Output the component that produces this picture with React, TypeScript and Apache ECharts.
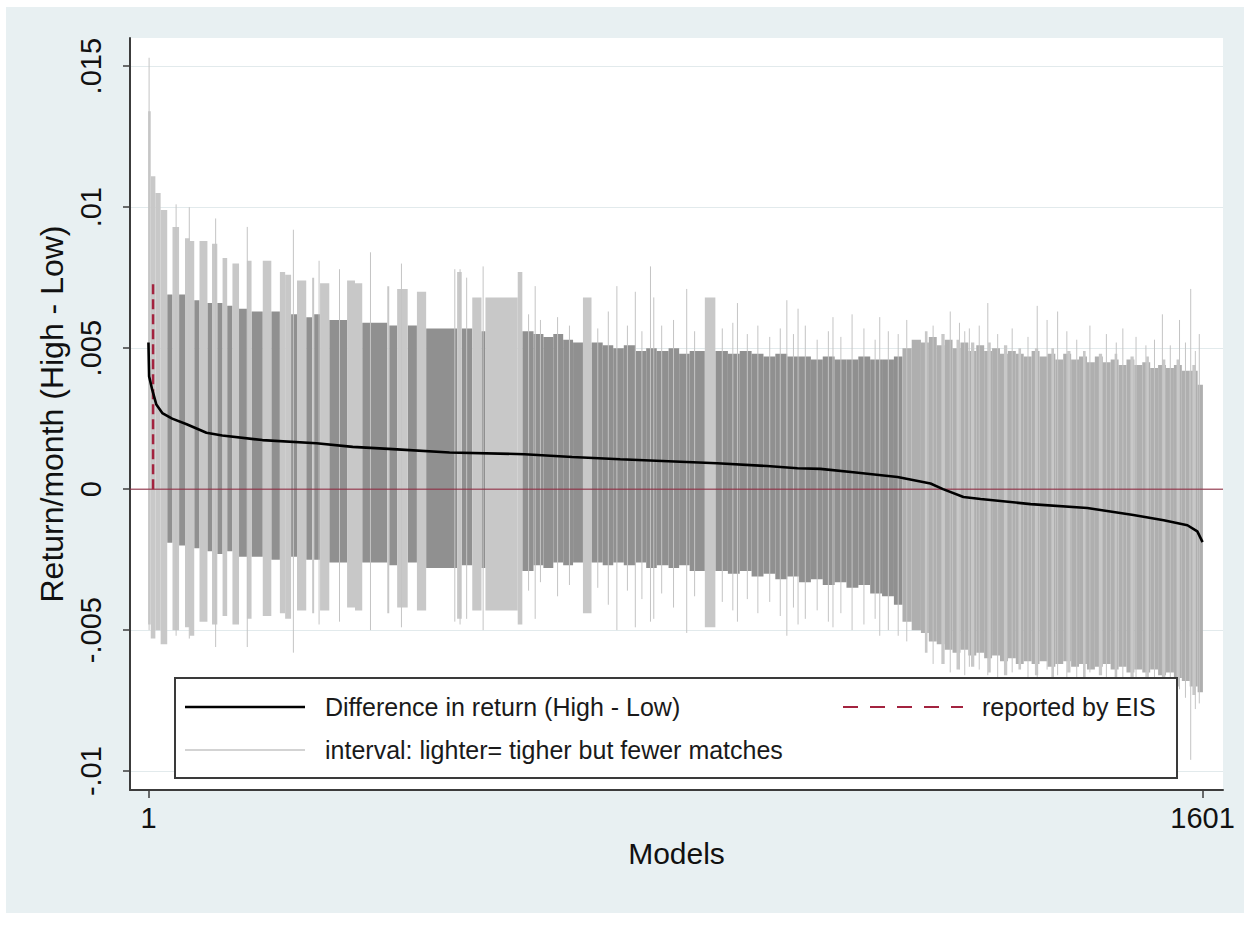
import React, { useEffect, useRef } from 'react';
import * as echarts from 'echarts';

// ---------- axis settings ----------
const xMin = -27;
const xMax = 1632;
const yMin = -0.01067;
const yMax = 0.016;
const xTicks = [1, 1601];
const xTickLabels = ['1', '1601'];
const yTicks = [-0.01, -0.005, 0, 0.005, 0.01, 0.015];
const yTickLabels = ['-.01', '-.005', '0', '.005', '.01', '.015'];

// ---------- data: [firstModel, lastModel, low, high] ----------
const darkRuns: number[][] = [
  [30, 37, -0.0019, 0.0069], [48, 56, -0.002, 0.0069], [71, 78, -0.0021, 0.0067],
  [91, 97, -0.0022, 0.0066], [106, 113, -0.0023, 0.0066], [121, 128, -0.0022, 0.0065],
  [139, 150, -0.0024, 0.0064], [158, 174, -0.0024, 0.0063], [188, 200, -0.0025, 0.0063],
  [218, 226, -0.0024, 0.0062], [241, 249, -0.0025, 0.0061], [253, 261, -0.0025, 0.0062],
  [276, 302, -0.0026, 0.006], [326, 363, -0.0026, 0.0059], [367, 378, -0.0027, 0.0058],
  [395, 408, -0.0026, 0.0058], [423, 469, -0.0028, 0.0057], [477, 492, -0.0027, 0.0057],
  [507, 512, -0.0028, 0.0056], [569, 585, -0.0029, 0.0056], [586, 600, -0.0027, 0.0055],
  [601, 615, -0.0028, 0.0054], [616, 630, -0.0026, 0.0055], [631, 645, -0.0027, 0.0053],
  [646, 660, -0.0026, 0.0052], [674, 690, -0.0026, 0.0052], [691, 706, -0.0027, 0.0051],
  [707, 722, -0.0026, 0.005], [723, 740, -0.0027, 0.0051], [741, 756, -0.0026, 0.0049],
  [757, 772, -0.0028, 0.005], [773, 790, -0.0027, 0.0049], [791, 806, -0.0028, 0.005],
  [807, 822, -0.0027, 0.0048], [823, 845, -0.0029, 0.0049], [862, 880, -0.0029, 0.0049],
  [881, 898, -0.003, 0.0048], [899, 916, -0.0029, 0.0049], [917, 934, -0.0031, 0.0048],
  [935, 952, -0.003, 0.0047], [953, 970, -0.0032, 0.0048], [971, 988, -0.0031, 0.0047],
  [989, 1006, -0.0033, 0.0047], [1007, 1024, -0.0032, 0.0046], [1025, 1042, -0.0034, 0.0047],
  [1043, 1060, -0.0033, 0.0046], [1061, 1078, -0.0035, 0.0046], [1079, 1096, -0.0034, 0.0047],
  [1097, 1114, -0.0037, 0.0046], [1115, 1132, -0.0038, 0.0046], [1133, 1145, -0.0041, 0.0047],
];

const midRuns: number[][] = [
  [1146, 1159, -0.0047, 0.005], [1160, 1173, -0.005, 0.0053],
  [1174, 1185, -0.0051, 0.0052], [1186, 1197, -0.0054, 0.0054], [1198, 1209, -0.0055, 0.0051],
  [1210, 1221, -0.0057, 0.0053], [1222, 1233, -0.0058, 0.005], [1234, 1245, -0.0057, 0.0052],
  [1246, 1257, -0.0059, 0.0049], [1258, 1269, -0.0058, 0.0051], [1270, 1281, -0.006, 0.0049],
  [1282, 1293, -0.0059, 0.005], [1294, 1305, -0.0061, 0.0048], [1306, 1317, -0.006, 0.0049],
  [1318, 1329, -0.0062, 0.0048], [1330, 1341, -0.0061, 0.0047], [1342, 1353, -0.0062, 0.0049],
  [1354, 1365, -0.0061, 0.0047], [1366, 1377, -0.0063, 0.0048], [1378, 1389, -0.0062, 0.0046],
  [1390, 1401, -0.0061, 0.0048], [1402, 1413, -0.0063, 0.0046], [1414, 1425, -0.0062, 0.0047],
  [1426, 1437, -0.0064, 0.0045], [1438, 1449, -0.0063, 0.0047], [1450, 1461, -0.0062, 0.0045],
  [1462, 1473, -0.0064, 0.0046], [1474, 1485, -0.0063, 0.0044], [1486, 1497, -0.0065, 0.0046],
  [1498, 1509, -0.0064, 0.0044], [1510, 1521, -0.0065, 0.0045], [1522, 1533, -0.0064, 0.0043],
  [1534, 1545, -0.0066, 0.0044], [1546, 1557, -0.0065, 0.0043], [1558, 1569, -0.0067, 0.0044],
  [1570, 1581, -0.0068, 0.0042], [1582, 1593, -0.007, 0.0042], [1594, 1601, -0.0072, 0.0037],
];

const lightRuns: number[][] = [
  [1, 4, -0.0048, 0.0134], [5, 11, -0.0053, 0.0111], [12, 19, -0.005, 0.0105],
  [20, 29, -0.0055, 0.0099], [38, 47, -0.005, 0.0093], [57, 63, -0.0049, 0.0089],
  [64, 70, -0.0052, 0.0088], [79, 90, -0.0047, 0.0088], [98, 105, -0.0048, 0.0087],
  [114, 120, -0.0045, 0.0082], [129, 138, -0.0048, 0.008], [151, 157, -0.0046, 0.0081],
  [175, 187, -0.0045, 0.0081], [201, 208, -0.0044, 0.0077], [209, 217, -0.0046, 0.0076],
  [227, 240, -0.0043, 0.0074], [250, 252, -0.0044, 0.0075], [262, 275, -0.0043, 0.0073],
  [303, 314, -0.0042, 0.0074], [315, 325, -0.0043, 0.0073], [364, 366, -0.0044, 0.0072],
  [379, 394, -0.0042, 0.0071], [409, 422, -0.0043, 0.007], [470, 476, -0.0046, 0.0077],
  [493, 506, -0.0043, 0.0068], [513, 561, -0.0043, 0.0068], [562, 568, -0.0048, 0.0077],
  [661, 673, -0.0044, 0.0068], [846, 861, -0.0049, 0.0068],
  [1180, 1183, -0.0058, 0.0056], [1205, 1209, -0.0062, 0.0055], [1228, 1231, -0.0064, 0.0053],
  [1250, 1254, -0.0063, 0.0052], [1276, 1279, -0.0065, 0.0052], [1300, 1304, -0.0066, 0.0051],
  [1322, 1325, -0.0064, 0.005], [1347, 1351, -0.0066, 0.005], [1372, 1375, -0.0067, 0.005],
  [1396, 1400, -0.0065, 0.0049], [1420, 1423, -0.0067, 0.0049], [1444, 1448, -0.0066, 0.0048],
  [1468, 1471, -0.0068, 0.0048], [1492, 1496, -0.0067, 0.0047], [1516, 1519, -0.0068, 0.0047],
  [1540, 1544, -0.0069, 0.0046], [1562, 1565, -0.007, 0.0046], [1586, 1590, -0.0073, 0.0044],
];

// single thin intervals: [model, low, high]
const spikes: number[][] = [
  [2, -0.005, 0.0153], [43, -0.0052, 0.0101], [63, -0.0053, 0.01], [103, -0.0056, 0.0096],
  [151, -0.0056, 0.0093], [221, -0.0058, 0.0092], [260, -0.0048, 0.0081], [291, -0.0047, 0.0078],
  [338, -0.005, 0.0084], [385, -0.0049, 0.008], [466, -0.0047, 0.0078], [474, -0.0048, 0.0078],
  [484, -0.0046, 0.0075], [509, -0.005, 0.0079], [588, -0.0046, 0.0072], [712, -0.005, 0.0072],
  [740, -0.0049, 0.007], [763, -0.0047, 0.0079], [768, -0.0046, 0.0068], [818, -0.0051, 0.0071],
  [895, -0.0047, 0.0066], [970, -0.0052, 0.0067], [987, -0.0048, 0.0064], [1040, -0.0049, 0.0061],
  [1069, -0.005, 0.0062], [1111, -0.0052, 0.0061], [1152, -0.0054, 0.006], [1218, -0.0065, 0.0063],
  [1232, -0.0064, 0.0059], [1247, -0.0063, 0.0057], [1275, -0.0066, 0.0066], [1350, -0.0067, 0.0065],
  [1365, -0.0064, 0.006], [1381, -0.0066, 0.0063], [1430, -0.0065, 0.0058], [1480, -0.0068, 0.0057],
  [1540, -0.007, 0.0062], [1566, -0.0071, 0.006], [1583, -0.0096, 0.0071], [1596, -0.0076, 0.0055],
  [578, -0.0036, 0.0062], [596, -0.0033, 0.006], [622, -0.0038, 0.0061], [640, -0.0034, 0.0058],
  [683, -0.0035, 0.0057], [699, -0.0041, 0.0063], [728, -0.0036, 0.0058], [750, -0.0039, 0.0056],
  [780, -0.0037, 0.0058], [798, -0.0042, 0.006], [830, -0.0038, 0.0056], [872, -0.004, 0.0057],
  [888, -0.0043, 0.0059], [910, -0.0039, 0.0055], [926, -0.0044, 0.0058], [944, -0.004, 0.0054],
  [960, -0.0045, 0.0057], [980, -0.0042, 0.0055], [998, -0.0046, 0.0058], [1016, -0.0043, 0.0053],
  [1033, -0.0047, 0.0056], [1052, -0.0044, 0.0054], [1087, -0.0048, 0.0057], [1104, -0.0046, 0.0053],
  [1124, -0.005, 0.0056], [1139, -0.0052, 0.0055], [1192, -0.0062, 0.0058], [1240, -0.0066, 0.0056],
  [1262, -0.0064, 0.0058], [1290, -0.0067, 0.0055], [1312, -0.0065, 0.0057], [1336, -0.0068, 0.0054],
  [1395, -0.0067, 0.0056], [1410, -0.0069, 0.0053], [1455, -0.0067, 0.0055], [1470, -0.007, 0.0052],
  [1500, -0.0069, 0.0054], [1515, -0.0071, 0.0051], [1528, -0.0069, 0.0053], [1552, -0.0072, 0.0051],
  [1575, -0.0074, 0.0052], [1590, -0.0078, 0.0049],
];

// difference in return (High - Low): [model, value]
const diffReturn: number[][] = [
  [1, 0.0052], [2, 0.004], [7, 0.0035], [13, 0.003], [22, 0.0027], [37, 0.0025],
  [59, 0.0023], [89, 0.002], [113, 0.0019], [174, 0.00174], [256, 0.00163], [311, 0.0015],
  [372, 0.00142], [458, 0.0013], [572, 0.00124], [644, 0.00114], [717, 0.00106], [790, 0.00099],
  [864, 0.00092], [940, 0.00082], [986, 0.00074], [1021, 0.00072], [1071, 0.0006], [1138, 0.00043],
  [1188, 0.0002], [1207, 0], [1238, -0.00028], [1264, -0.00035], [1340, -0.00053], [1426, -0.00067],
  [1496, -0.00092], [1542, -0.0011], [1578, -0.00128], [1593, -0.0015], [1601, -0.00188],
];

const eisModel = 8;
const eisValue = 0.0074;

const FONT = '"Liberation Sans", Arial, Helvetica, sans-serif';
const DARK = '#909090';
const MID = '#afafaf';
const LIGHT = '#c8c8c8';
const CRANBERRY = '#a3233f';

function runSeries(name: string, data: number[][], color: string, z: number) {
  return {
    type: 'custom',
    name,
    z,
    silent: true,
    data,
    encode: { x: [0, 1], y: [2, 3] },
    renderItem: (_p: any, api: any) => {
      const s = api.value(0);
      const e = api.value(1);
      const lo = api.value(2);
      const hi = api.value(3);
      const p0 = api.coord([s - 0.5, hi]);
      const p1 = api.coord([e + 0.5, lo]);
      return {
        type: 'rect',
        shape: { x: p0[0], y: p0[1], width: Math.max(p1[0] - p0[0], 0.8), height: p1[1] - p0[1] },
        style: { fill: color },
      };
    },
  };
}

export default function App() {
  const ref = useRef<HTMLDivElement>(null);
  useEffect(() => {
    document.body.style.margin = '0';
    const chart = echarts.init(ref.current!, null, { renderer: 'svg', width: 1251, height: 935 });
    const option: any = {
      animation: false,
      backgroundColor: 'transparent',
      textStyle: { fontFamily: FONT },
      grid: { left: 130, top: 38, width: 1093, height: 752, show: true, backgroundColor: '#ffffff', borderWidth: 0 },
      xAxis: {
        type: 'value',
        min: xMin,
        max: xMax,
        name: 'Models',
        nameLocation: 'middle',
        nameGap: 48,
        nameTextStyle: { fontFamily: FONT, fontSize: 30, color: '#111' },
        axisLine: { show: true, onZero: false, lineStyle: { color: '#3c3c3c', width: 2 } },
        axisTick: { show: true, length: 8, lineStyle: { color: '#3c3c3c', width: 1.5 }, customValues: xTicks },
        axisLabel: {
          customValues: xTicks,
          margin: 13,
          fontFamily: FONT,
          fontSize: 29,
          color: '#111',
          formatter: (v: number) => {
            const i = xTicks.findIndex((t) => Math.abs(t - v) < 1e-6);
            return i >= 0 ? xTickLabels[i] : '';
          },
        },
        splitLine: { show: false },
      },
      yAxis: {
        type: 'value',
        min: yMin,
        max: yMax,
        name: 'Return/month (High - Low)',
        nameLocation: 'middle',
        nameRotate: 90,
        nameGap: 56,
        nameTextStyle: { fontFamily: FONT, fontSize: 32, color: '#111' },
        axisLine: { show: true, onZero: false, lineStyle: { color: '#3c3c3c', width: 2 } },
        axisTick: { show: true, length: 7, lineStyle: { color: '#3c3c3c', width: 1.5 }, customValues: yTicks },
        axisLabel: {
          customValues: yTicks,
          rotate: 90,
          margin: 25,
          fontFamily: FONT,
          fontSize: 29,
          color: '#111',
          formatter: (v: number) => {
            const i = yTicks.findIndex((t) => Math.abs(t - v) < 1e-9);
            return i >= 0 ? yTickLabels[i] : '';
          },
        },
        splitLine: { show: true, lineStyle: { color: '#e2eaec', width: 1 } },
      },
      series: [
        runSeries('dark intervals', darkRuns, DARK, 2),
        runSeries('mid intervals', midRuns, MID, 3),
        runSeries('light intervals', lightRuns, LIGHT, 4),
        {
          type: 'custom',
          name: 'spikes',
          z: 5,
          silent: true,
          data: spikes,
          encode: { x: 0, y: [1, 2] },
          renderItem: (_p: any, api: any) => {
            const m = api.value(0);
            const a = api.coord([m, api.value(1)]);
            const b = api.coord([m, api.value(2)]);
            return {
              type: 'line',
              shape: { x1: a[0], y1: a[1], x2: b[0], y2: b[1] },
              style: { stroke: '#c4c4c4', lineWidth: 1 },
            };
          },
        },
        {
          type: 'line',
          name: 'zero',
          z: 6,
          silent: true,
          symbol: 'none',
          data: [[xMin, 0], [xMax, 0]],
          lineStyle: { color: '#8e2a40', width: 1.5, opacity: 0.7 },
        },
        {
          type: 'line',
          name: 'reported by EIS',
          z: 7,
          silent: true,
          symbol: 'none',
          data: [[eisModel, 0], [eisModel, eisValue]],
          lineStyle: { color: CRANBERRY, width: 2.5, type: [10, 5] },
        },
        {
          type: 'line',
          name: 'Difference in return (High - Low)',
          z: 8,
          silent: true,
          symbol: 'none',
          data: diffReturn,
          lineStyle: { color: '#000', width: 2.6 },
        },
      ],
      graphic: [
        {
          type: 'rect',
          z: 100,
          shape: { x: 175, y: 678, width: 1002, height: 100 },
          style: { fill: '#fff', stroke: '#3a3a3a', lineWidth: 2 },
        },
        { type: 'line', z: 101, shape: { x1: 185, y1: 707, x2: 305, y2: 707 }, style: { stroke: '#000', lineWidth: 2.6 } },
        {
          type: 'text', z: 101, x: 325, y: 707,
          style: { text: 'Difference in return (High - Low)', font: `25px ${FONT}`, fill: '#1a1a1a', verticalAlign: 'middle', align: 'left' },
        },
        { type: 'line', z: 101, shape: { x1: 843, y1: 707, x2: 963, y2: 707 }, style: { stroke: CRANBERRY, lineWidth: 2.2, lineDash: [15, 12] } },
        {
          type: 'text', z: 101, x: 982, y: 707,
          style: { text: 'reported by EIS', font: `25px ${FONT}`, fill: '#1a1a1a', verticalAlign: 'middle', align: 'left' },
        },
        { type: 'line', z: 101, shape: { x1: 185, y1: 750, x2: 305, y2: 750 }, style: { stroke: '#c4c4c4', lineWidth: 1.5 } },
        {
          type: 'text', z: 101, x: 325, y: 750,
          style: { text: 'interval: lighter= tigher but fewer matches', font: `25px ${FONT}`, fill: '#1a1a1a', verticalAlign: 'middle', align: 'left' },
        },
      ],
    };
    chart.setOption(option);
    return () => chart.dispose();
  }, []);
  return (
    <div style={{ position: 'fixed', left: 0, top: 0, width: 1251, height: 935, background: '#fff' }}>
      <div style={{ position: 'absolute', left: 6, top: 7, width: 1238, height: 906, background: '#e8f0f2' }} />
      <div ref={ref} style={{ position: 'absolute', left: 0, top: 0, width: 1251, height: 935 }} />
    </div>
  );
}
